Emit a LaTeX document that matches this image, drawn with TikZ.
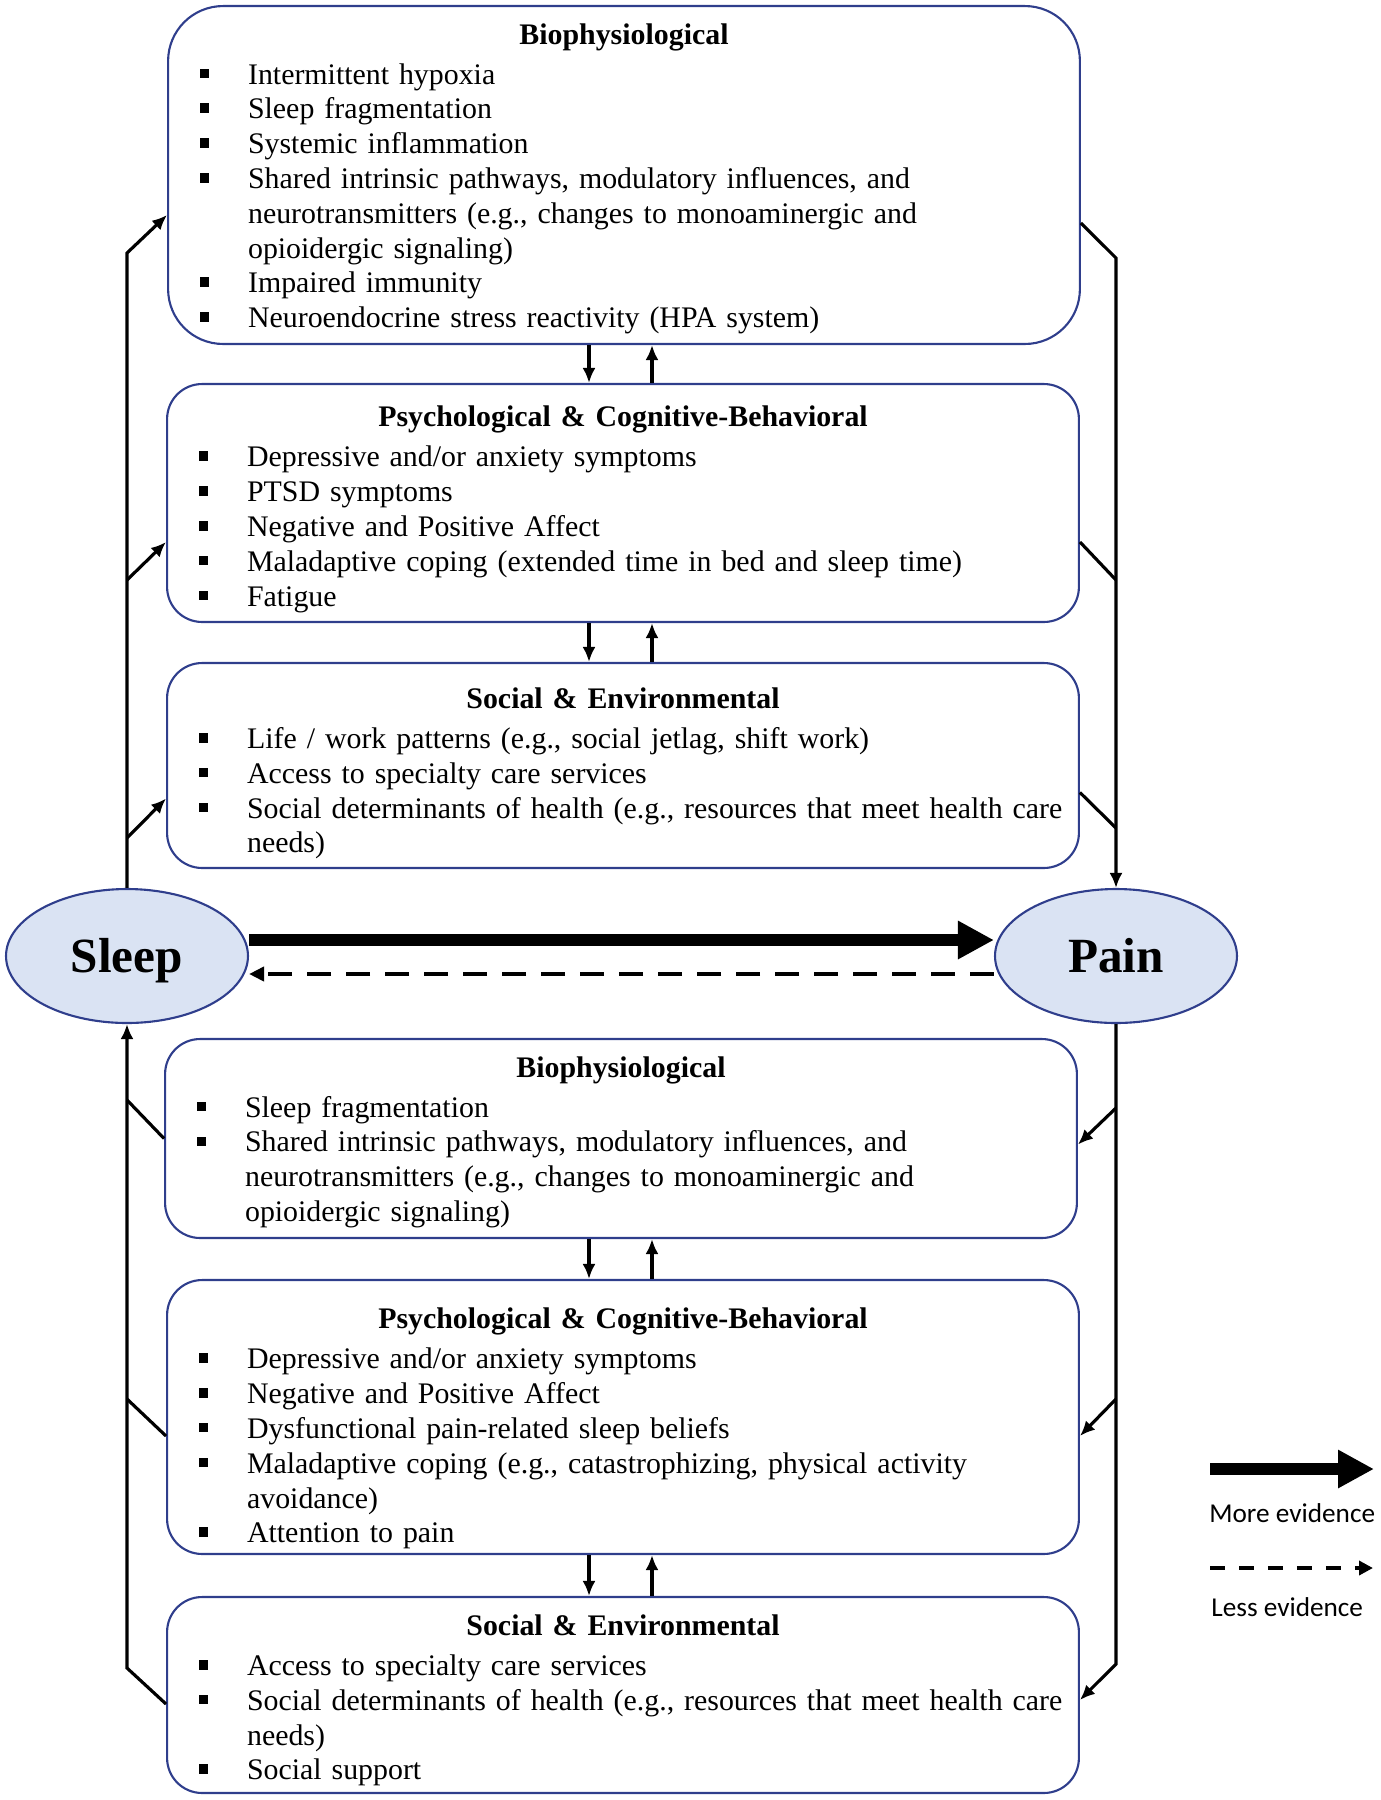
\documentclass[tikz,border=0pt]{standalone}
\usepackage{fontspec}
\setmainfont{Liberation Serif}
\newfontfamily\legendfont{Carlito}
\usetikzlibrary{shapes.geometric,arrows.meta,calc}

\definecolor{boxblue}{RGB}{47,62,140}
\definecolor{ovalfill}{RGB}{218,227,243}

\newlength{\itemind}
\setlength{\itemind}{1.6cm}
\newcommand{\itm}[1]{\par\noindent\hangindent=\itemind\hangafter=1%
  \makebox[\itemind][l]{\hspace{0.63cm}\rule[0.2em]{0.19cm}{0.19cm}}#1\par}
\newcommand{\boxtitle}[2][20pt]{\centerline{\rule{0pt}{#1}\bfseries #2}\vspace{3pt}}

\tikzset{
  factor/.style={draw=boxblue, line width=1.2pt, rounded corners=0.7cm,
    text width=18.24cm, minimum height=#1, inner xsep=0pt, inner ysep=0pt,
    align=left, font=\fontsize{17}{19.8}\selectfont},
  oval/.style={ellipse, draw=boxblue, line width=1.2pt, fill=ovalfill,
    minimum width=4.84cm, minimum height=2.68cm, inner sep=0pt,
    text height=18.5pt, text depth=0pt,
    font=\fontsize{28}{30}\selectfont\bfseries},
  conn/.style={black, line width=1.8pt},
  arr/.style={conn, -{Latex[length=0.3cm,width=0.26cm]}},
  strong/.style={black, line width=0.24cm, -{Triangle[length=0.72cm,width=0.72cm]}},
  weak/.style={black, line width=0.08cm, dash pattern=on 0.48cm off 0.3cm,
    -{Triangle[length=0.3cm,width=0.28cm]}},
  legend/.style={inner sep=0pt, font=\legendfont\fontsize{15.5}{17}\selectfont}
}

\begin{document}
\begin{tikzpicture}[x=0.02cm, y=-0.02cm]
    \useasboundingbox (0,0) rectangle (1381,1800);

    % sleep -> pain side
    \node[factor=6.76cm, rounded corners=1.1cm] (bioA) at (624,175) {%
      \boxtitle[16pt]{Biophysiological}
      \itm{Intermittent hypoxia}
      \itm{Sleep fragmentation}
      \itm{Systemic inflammation}
      \itm{Shared intrinsic pathways, modulatory influences, and\newline neurotransmitters (e.g., changes to monoaminergic and\newline opioidergic signaling)}
      \itm{Impaired immunity}
      \itm{Neuroendocrine stress reactivity (HPA system)}};
    \node[factor=4.76cm] (psyA) at (623,503) {%
      \boxtitle[19pt]{Psychological \& Cognitive-Behavioral}
      \itm{Depressive and/or anxiety symptoms}
      \itm{PTSD symptoms}
      \itm{Negative and Positive Affect}
      \itm{Maladaptive coping (extended time in bed and sleep time)}
      \itm{Fatigue}};
    \node[factor=4.1cm] (socA) at (623,765.5) {%
      \boxtitle[21pt]{Social \& Environmental}
      \itm{Life / work patterns (e.g., social jetlag, shift work)}
      \itm{Access to specialty care services}
      \itm{Social determinants of health (e.g., resources that meet health care\newline needs)}};

    % the two ovals
    \node[oval] (sleep) at (127,956) {Sleep};
    \node[oval] (pain) at (1116,956) {Pain};

    % pain -> sleep side
    \node[factor=3.98cm] (bioB) at (621,1138.5) {%
      \boxtitle[16pt]{Biophysiological}
      \itm{Sleep fragmentation}
      \itm{Shared intrinsic pathways, modulatory influences, and\newline neurotransmitters (e.g., changes to monoaminergic and\newline opioidergic signaling)}};
    \node[factor=5.48cm] (psyB) at (623,1417) {%
      \boxtitle[25pt]{Psychological \& Cognitive-Behavioral}
      \itm{Depressive and/or anxiety symptoms}
      \itm{Negative and Positive Affect}
      \itm{Dysfunctional pain-related sleep beliefs}
      \itm{Maladaptive coping (e.g., catastrophizing, physical activity\newline avoidance)}
      \itm{Attention to pain}};
    \node[factor=3.92cm] (socB) at (623,1695) {%
      \boxtitle[18pt]{Social \& Environmental}
      \itm{Access to specialty care services}
      \itm{Social determinants of health (e.g., resources that meet health care\newline needs)}
      \itm{Social support}};

    % main relations
    \draw[strong] ($(sleep.east)+(0,-16)$) -- ($(pain.west)+(0,-16)$);  % more evidence
    \draw[weak] ($(pain.west)+(0,18)$) -- ($(sleep.east)+(0,18)$);  % less evidence

    % arrows between stacked boxes
    \coordinate (mdn) at (589,0);
    \coordinate (mup) at (652,0);
    \draw[arr] (bioA.south -| mdn) -- (psyA.north -| mdn);
    \draw[arr] (psyA.north -| mup) -- (bioA.south -| mup);
    \draw[arr] (psyA.south -| mdn) -- (socA.north -| mdn);
    \draw[arr] (socA.north -| mup) -- (psyA.south -| mup);
    \draw[arr] (bioB.south -| mdn) -- (psyB.north -| mdn);
    \draw[arr] (psyB.north -| mup) -- (bioB.south -| mup);
    \draw[arr] (psyB.south -| mdn) -- (socB.north -| mdn);
    \draw[arr] (socB.north -| mup) -- (psyB.south -| mup);

    % sleep feeds the upper boxes
    \coordinate (jl1) at (127,253);
    \coordinate (jl2) at (127,580);
    \coordinate (jl3) at (127,838);
    \draw[arr] (sleep.north) -- (jl1) -- ($(bioA.west)+(0,40)$);
    \draw[arr] (jl2) -- ($(psyA.west)+(0,39)$);
    \draw[arr] (jl3) -- ($(socA.west)+(0,33)$);

    % upper boxes feed pain
    \coordinate (jr1) at (1116,258);
    \coordinate (jr2) at (1116,580);
    \coordinate (jr3) at (1116,828);
    \draw[arr] ($(bioA.east)+(0,48)$) -- (jr1) -- (pain.north);
    \draw[conn] ($(psyA.east)+(0,39)$) -- (jr2);
    \draw[conn] ($(socA.east)+(0,27)$) -- (jr3);

    % pain feeds the lower boxes
    \coordinate (jr4) at (1116,1108);
    \coordinate (jr5) at (1116,1399);
    \coordinate (jr6) at (1116,1664);
    \draw[arr] (pain.south) -- (jr6) -- ($(socB.east)+(0,5)$);
    \draw[arr] (jr4) -- ($(bioB.east)+(0,6)$);
    \draw[arr] (jr5) -- ($(psyB.east)+(0,19)$);

    % lower boxes feed sleep
    \coordinate (jl4) at (127,1100);
    \coordinate (jl5) at (127,1399);
    \coordinate (jl6) at (127,1668);
    \draw[arr] ($(socB.west)+(0,9)$) -- (jl6) -- (sleep.south);
    \draw[conn] (bioB.west) -- (jl4);
    \draw[conn] ($(psyB.west)+(0,19)$) -- (jl5);

    % legend
    \coordinate (moreA) at (1210,1469);
    \coordinate (moreB) at (1374,1469);
    \coordinate (lessA) at (1210,1568);
    \coordinate (lessB) at (1373,1568);
    \draw[strong] (moreA) -- (moreB);
    \draw[weak, line width=0.07cm, dash pattern=on 0.3cm off 0.28cm,
      -{Triangle[length=0.28cm,width=0.28cm]}] (lessA) -- (lessB);
    \node[legend, anchor=west] (moretxt) at (1209,1513) {More evidence};
    \node[legend, anchor=west] (lesstxt) at (1211,1607) {Less evidence};
\end{tikzpicture}
\end{document}
